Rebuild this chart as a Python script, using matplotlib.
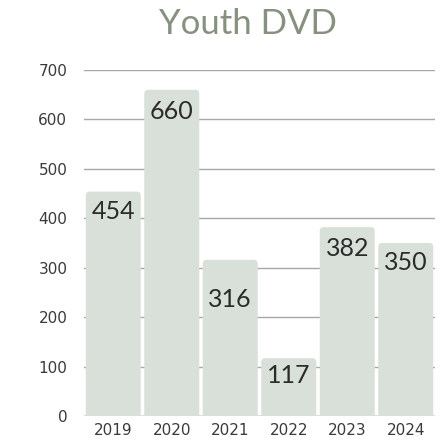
import matplotlib
matplotlib.use("Agg")
import matplotlib.pyplot as plt
from matplotlib.patches import FancyBboxPatch

years = ["2019", "2020", "2021", "2022", "2023", "2024"]
values = [454, 660, 316, 117, 382, 350]
label_offsets = [20, 22, 40, 17, 21, 20]  # px below bar top
yticks = [0, 100, 200, 300, 400, 500, 600, 700]

fig = plt.figure(figsize=(4.42, 4.44), dpi=100)
ax = fig.add_axes([84/442, 1-416/444, 351/442, 346/444])
ax.set_xlim(-0.5, 5.5)
ax.set_ylim(0, 700)

for t in yticks[1:]:
    ax.axhline(t, color="#a8a8a8", lw=1, zorder=0)
ax.axhline(0, color="#555555", lw=1, zorder=0)

bars = ax.bar(range(len(years)), values, width=0.94, color="#d9e0da", zorder=1)
px_x = 351/6  # px per x unit
px_y = 346/700
for b in bars:
    b.set_visible(False)
    x, w, h = b.get_x(), b.get_width(), b.get_height()
    r = 4/px_x
    p = FancyBboxPatch((x, -20), w, h+20, boxstyle=f"round,pad=0,rounding_size={r}",
                       mutation_aspect=px_x/px_y, fc="#d9e0da", ec="none", zorder=1,
                       clip_on=True)
    ax.add_patch(p)

for i, (v, off) in enumerate(zip(values, label_offsets)):
    ax.text(i, v - off/px_y, str(v), ha="center", va="center", fontsize=18,
            color="#2b2b2b", family="Lato", zorder=3)

ax.set_xticks(range(len(years)))
ax.set_xticklabels(years)
ax.set_yticks(yticks)
ax.tick_params(axis="both", length=0, labelsize=11, colors="#3a3a3a")
ax.tick_params(axis="y", pad=12)
ax.tick_params(axis="x", pad=5)
for s in ax.spines.values():
    s.set_visible(False)

fig.text(0.56, 0.945, "Youth DVD", ha="center", va="center", fontsize=25,
         color="#87917f", family="Lato", fontweight="normal")

fig.savefig("out.png", dpi=100)
